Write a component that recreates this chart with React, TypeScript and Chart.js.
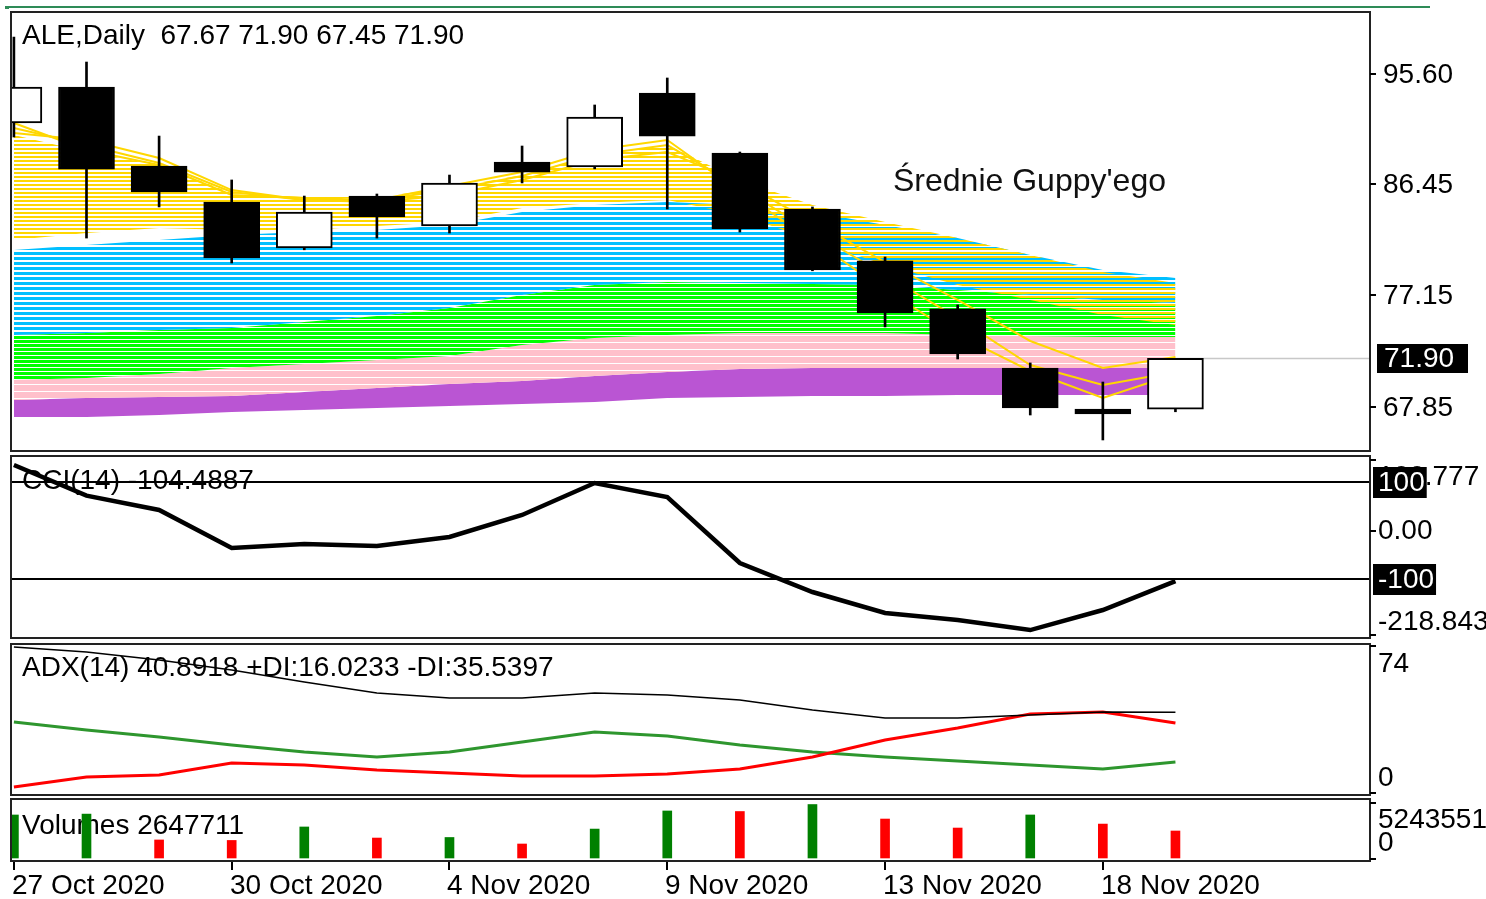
import { useEffect, useRef } from 'react';
import { Chart, registerables } from 'chart.js';

Chart.register(...registerables);

// ---------------- data ----------------
const symbolTitle = 'ALE,Daily';
const guppyTitle = "Średnie Guppy'ego";

const dateTickIndex = [0, 3, 6, 9, 12, 15];
const dateTickLabels = ['27 Oct 2020', '30 Oct 2020', '4 Nov 2020', '9 Nov 2020', '13 Nov 2020', '18 Nov 2020'];

const opens = [91.52, 94.52, 87.93, 84.93, 81.1, 85.43, 82.93, 88.27, 87.85, 94.02, 89.02, 84.35, 80.02, 76.02, 71.1, 67.68, 67.67];
const highs = [98.68, 96.6, 90.43, 86.77, 85.43, 85.6, 87.18, 89.6, 93.02, 95.27, 89.1, 84.52, 80.35, 76.35, 71.52, 69.93, 71.9];
const lows = [90.35, 81.93, 84.52, 79.85, 80.95, 81.93, 82.35, 86.52, 87.7, 84.35, 82.43, 79.2, 74.52, 71.85, 67.18, 65.1, 67.45];
const closes = [94.52, 87.68, 85.77, 80.27, 84.1, 83.68, 86.52, 87.43, 92.02, 90.43, 82.68, 79.27, 75.68, 72.27, 67.77, 67.27, 71.9];

const priceTicks = [95.6, 86.45, 77.15, 67.85];

// Guppy ribbon (price values)
const goldFast1 = [91.52, 89.27, 88.02, 85.52, 85.27, 85.1, 86.27, 87.43, 89.27, 90.1, 85.77, 81.77, 77.6, 73.85, 70.85, 68.6, 70.6];
const goldFast2 = [91.1, 89.68, 88.18, 85.77, 85.1, 85.1, 85.93, 87.1, 88.85, 89.68, 86.18, 82.43, 78.85, 75.27, 71.35, 69.68, 70.77];
const goldFast3 = [90.68, 90.1, 88.6, 85.93, 85.1, 84.93, 85.52, 86.77, 88.43, 89.1, 86.6, 83.27, 79.93, 76.77, 73.35, 71.1, 72.02];
const goldTop = [90.52, 89.1, 88.02, 85.68, 85.35, 85.35, 86.1, 87.18, 88.85, 89.68, 86.77, 84.68, 83.27, 81.93, 80.52, 79.1, 78.18];
const goldBottom = [81.77, 82.35, 82.77, 82.6, 82.6, 82.93, 83.27, 84.43, 84.85, 85.1, 83.85, 81.77, 79.68, 78.02, 76.77, 75.52, 74.68];
const blueTop = [80.93, 81.35, 81.77, 82.18, 82.43, 82.6, 83.02, 84.1, 84.68, 84.93, 84.68, 84.1, 83.02, 81.93, 80.52, 79.27, 78.6];
const blueGreenEdge = [73.85, 74.02, 74.27, 74.43, 74.93, 75.43, 76.1, 77.18, 78.02, 78.27, 78.18, 78.1, 78.02, 77.6, 77.18, 76.77, 76.52];
const greenPinkEdge = [70.1, 70.27, 70.6, 71.1, 71.43, 71.77, 72.1, 73.02, 73.6, 73.85, 74.02, 74.02, 74.02, 73.85, 73.77, 73.68, 73.68];
const pinkPurpleEdge = [68.43, 68.6, 68.68, 68.77, 69.1, 69.43, 69.77, 70.02, 70.43, 70.77, 71.02, 71.1, 71.1, 71.1, 71.1, 71.1, 71.1];
const purpleBottom = [67.02, 67.02, 67.18, 67.43, 67.6, 67.77, 67.93, 68.1, 68.27, 68.6, 68.68, 68.77, 68.77, 68.85, 68.85, 68.85, 68.85];

const cciValues = [135.1, 72.0, 42.3, -36.1, -27.8, -32.0, -13.4, 32.0, 97.9, 69.1, -67.0, -126.8, -170.1, -184.5, -205.2, -163.9, -104.4887];
const cciLevels = [100, -100];
const cciMaxLabel = '100.777';
const cciMinLabel = '-218.843';

const adxMain = [73.5, 71, 67, 62, 56, 50.5, 48, 48, 50.5, 49.5, 47, 42, 38, 38, 39.5, 41, 40.8918];
const plusDI = [36, 32, 28.5, 24.5, 21, 18.5, 21, 26, 31, 29, 24.5, 21, 18.5, 16.5, 14.5, 12.5, 16.0233];
const minusDI = [3.5, 8.5, 9.5, 15.5, 14.5, 12, 10.5, 9, 9, 10, 12.5, 18.5, 27, 33, 40, 41, 35.5397];
const adxMaxLabel = '74';
const adxMinLabel = '0';

const volumes = [4218400, 4305200, 1768900, 1721300, 3042600, 1957400, 2011800, 1372500, 2836900, 4612300, 4558700, 5243551, 3821400, 2938600, 4219800, 3327400, 2647711];

// ---------------- style / layout ----------------
const W = 1486;
const X_MIN = -0.04;
const X_MAX = 18.68;
const FONT = '28px "Liberation Sans", Arial, sans-serif';
const GOLD = '#FFD700';
const BLUE = '#00BFFF';
const GREEN = '#00FF00';
const PINK = '#FFC0CB';
const PURPLE = '#BA55D3';
const VOL_UP = '#008000';
const VOL_DOWN = '#FF0000';

const pts = (arr: number[]) => arr.map((y, i) => ({ x: i, y }));

function drawText(ctx: any, s: string, x: number, y: number, color = '#000', font = FONT) {
  ctx.save();
  ctx.font = font;
  ctx.fillStyle = color;
  ctx.textAlign = 'left';
  ctx.textBaseline = 'middle';
  ctx.fillText(s, x, y);
  ctx.restore();
}

function frame(ctx: any, a: any) {
  ctx.save();
  ctx.strokeStyle = '#222';
  ctx.lineWidth = 2;
  ctx.strokeRect(a.left, a.top, a.right - a.left, a.bottom - a.top);
  ctx.restore();
}

function axisTick(ctx: any, a: any, py: number) {
  ctx.save();
  ctx.fillStyle = '#000';
  ctx.fillRect(a.right, Math.round(py) - 1, 6, 2);
  ctx.restore();
}

function boxed(ctx: any, s: string, x: number, y: number) {
  ctx.save();
  ctx.font = FONT;
  const w = ctx.measureText(s).width;
  ctx.fillStyle = '#000';
  ctx.fillRect(x - 5, Math.round(y) - 15, w + 7, 31);
  ctx.restore();
  drawText(ctx, s, x, y + 1, '#fff');
}

function stripes(target: HTMLCanvasElement, color: string, on: number, period: number, phase: number) {
  const c = document.createElement('canvas');
  c.width = 4;
  c.height = period;
  const g = c.getContext('2d')!;
  g.fillStyle = color;
  for (let r = 0; r < on; r++) g.fillRect(0, (phase + r) % period, 4, 1);
  return target.getContext('2d')!.createPattern(c, 'repeat');
}

function baseOptions(yMin: number, yMax: number, top: number, bottom: number): any {
  return {
    responsive: false,
    maintainAspectRatio: false,
    animation: false,
    devicePixelRatio: 1,
    events: [],
    layout: { padding: { left: 11, right: 116, top, bottom } },
    plugins: { legend: { display: false }, tooltip: { enabled: false }, title: { display: false } },
    datasets: { bar: { grouped: false } },
    scales: {
      x: { type: 'linear', min: X_MIN, max: X_MAX, display: false, offset: false, grid: { offset: false } },
      y: { type: 'linear', min: yMin, max: yMax, display: false, beginAtZero: false },
    },
  };
}

const lineDs = (arr: number[], color: string, width: number, order: number) => ({
  type: 'line',
  data: pts(arr),
  borderColor: color,
  borderWidth: width,
  pointRadius: 0,
  pointHoverRadius: 0,
  tension: 0,
  fill: false,
  order,
  clip: 0,
});

const bandTop = (arr: number[], paint: any, order: number) => ({
  type: 'line',
  data: pts(arr),
  borderColor: 'rgba(0,0,0,0)',
  borderWidth: 1,
  backgroundColor: paint,
  fill: '+1',
  pointRadius: 0,
  tension: 0,
  order,
  clip: 0,
});

const bandBottom = (arr: number[], order: number) => ({
  type: 'line',
  data: pts(arr),
  borderColor: 'rgba(0,0,0,0)',
  borderWidth: 1,
  fill: false,
  pointRadius: 0,
  tension: 0,
  order,
  clip: 0,
});

function priceConfig(canvas: HTMLCanvasElement): any {
  const idx = opens.map((_, i) => i);
  const last = closes.length - 1;
  const bodyData = idx.map((i) => ({ x: i, y: [Math.min(opens[i], closes[i]), Math.max(opens[i], closes[i])] }));
  const wickData = idx.map((i) => ({ x: i, y: [lows[i], highs[i]] }));
  const bodyColors = idx.map((i) => (closes[i] >= opens[i] ? '#FFFFFF' : '#000000'));
  const header = `${symbolTitle}  ${opens[last].toFixed(2)} ${highs[last].toFixed(2)} ${lows[last].toFixed(2)} ${closes[last].toFixed(2)}`;

  const plugin = {
    id: 'pricePanel',
    afterDraw(chart: any) {
      const { ctx, chartArea: a } = chart;
      const y = chart.scales.y;
      frame(ctx, a);
      priceTicks.forEach((v) => {
        const py = y.getPixelForValue(v);
        axisTick(ctx, a, py);
        drawText(ctx, v.toFixed(2), a.right + 13, py + 1);
      });
      const bp = y.getPixelForValue(closes[last]);
      ctx.save();
      ctx.fillStyle = '#000';
      ctx.fillRect(a.right + 7, Math.round(bp) - 14, 91, 29);
      ctx.restore();
      drawText(ctx, closes[last].toFixed(2), a.right + 14, bp + 1, '#fff');
      drawText(ctx, header, a.left + 11, a.top + 24);
      drawText(ctx, guppyTitle, a.left + 882, a.top + 170, '#111', '32px "Liberation Sans", Arial, sans-serif');
      ctx.save();
      ctx.fillStyle = '#2E8B57';
      ctx.fillRect(8, 6, 1422, 2);
      ctx.fillRect(5, 6, 4, 3);
      ctx.restore();
    },
  };

  return {
    type: 'bar',
    data: {
      datasets: [
        { type: 'bar', data: bodyData, backgroundColor: bodyColors, borderColor: '#000', borderWidth: 2, borderSkipped: false, barThickness: 56, grouped: false, order: 0, clip: 0 },
        { type: 'bar', data: wickData, backgroundColor: '#000', borderWidth: 0, barThickness: 2, grouped: false, order: 1, clip: 0 },
        lineDs(goldFast1, GOLD, 2, 2),
        lineDs(goldFast2, GOLD, 2, 2),
        lineDs(goldFast3, GOLD, 2, 2),
        bandTop(goldTop, stripes(canvas, GOLD, 2, 4, 0), 3),
        bandBottom(goldBottom, 3),
        bandTop(blueTop, stripes(canvas, BLUE, 3, 5, 2), 4),
        bandBottom(blueGreenEdge, 4),
        bandTop(blueGreenEdge, stripes(canvas, GREEN, 3, 4, 0), 5),
        bandBottom(greenPinkEdge, 5),
        bandTop(greenPinkEdge, stripes(canvas, PINK, 6, 7, 0), 6),
        bandBottom(pinkPurpleEdge, 6),
        bandTop(pinkPurpleEdge, PURPLE, 7),
        bandBottom(purpleBottom, 7),
        { type: 'line', data: [{ x: last, y: closes[last] }, { x: X_MAX, y: closes[last] }], borderColor: '#C8C8C8', borderWidth: 1.5, pointRadius: 0, order: 20, clip: 0 },
      ],
    },
    options: baseOptions(64.18, 100.77, 12, 2),
    plugins: [plugin],
  };
}

function cciConfig(): any {
  const plugin = {
    id: 'cciPanel',
    beforeDatasetsDraw(chart: any) {
      const { ctx, chartArea: a } = chart;
      const y = chart.scales.y;
      drawText(ctx, `CCI(14) ${cciValues[cciValues.length - 1].toFixed(4)}`, a.left + 11, a.top + 25);
      ctx.save();
      ctx.strokeStyle = '#000';
      ctx.lineWidth = 2;
      cciLevels.forEach((v) => {
        const py = Math.round(y.getPixelForValue(v));
        ctx.beginPath();
        ctx.moveTo(a.left, py);
        ctx.lineTo(a.right, py);
        ctx.stroke();
      });
      ctx.restore();
    },
    afterDraw(chart: any) {
      const { ctx, chartArea: a } = chart;
      const y = chart.scales.y;
      frame(ctx, a);
      axisTick(ctx, a, a.top + 4);
      drawText(ctx, cciMaxLabel, a.right + 8, a.top + 21);
      const p0 = y.getPixelForValue(0);
      axisTick(ctx, a, p0);
      drawText(ctx, (0).toFixed(2), a.right + 8, p0 + 1);
      axisTick(ctx, a, a.bottom - 3);
      drawText(ctx, cciMinLabel, a.right + 8, a.bottom - 16);
      cciLevels.forEach((v) => boxed(ctx, String(v), a.right + 8, y.getPixelForValue(v)));
    },
  };
  return {
    type: 'line',
    data: { datasets: [lineDs(cciValues, '#000', 4.5, 0)] },
    options: baseOptions(-221.6, 153.6, 2, 2),
    plugins: [plugin],
  };
}

function adxConfig(): any {
  const n = adxMain.length - 1;
  const plugin = {
    id: 'adxPanel',
    beforeDatasetsDraw(chart: any) {
      const { ctx, chartArea: a } = chart;
      drawText(ctx, `ADX(14) ${adxMain[n].toFixed(4)} +DI:${plusDI[n].toFixed(4)} -DI:${minusDI[n].toFixed(4)}`, a.left + 11, a.top + 24);
    },
    afterDraw(chart: any) {
      const { ctx, chartArea: a } = chart;
      frame(ctx, a);
      axisTick(ctx, a, a.top + 2);
      axisTick(ctx, a, a.bottom - 2);
      drawText(ctx, adxMaxLabel, a.right + 8, a.top + 20);
      drawText(ctx, adxMinLabel, a.right + 8, a.bottom - 17);
    },
  };
  return {
    type: 'line',
    data: {
      datasets: [
        lineDs(adxMain, '#000', 1.5, 0),
        lineDs(minusDI, '#FF0000', 3, 1),
        lineDs(plusDI, '#2E962E', 3, 2),
      ],
    },
    options: baseOptions(-0.5, 75, 2, 2),
    plugins: [plugin],
  };
}

function volumeConfig(): any {
  const n = volumes.length - 1;
  const colors = volumes.map((v, i) => (i === 0 || v > volumes[i - 1] ? VOL_UP : VOL_DOWN));
  const vMax = Math.max(...volumes);
  const plugin = {
    id: 'volPanel',
    beforeDatasetsDraw(chart: any) {
      const { ctx, chartArea: a } = chart;
      drawText(ctx, `Volumes ${volumes[n]}`, a.left + 11, a.top + 27);
    },
    afterDraw(chart: any) {
      const { ctx, chartArea: a } = chart;
      const x = chart.scales.x;
      frame(ctx, a);
      axisTick(ctx, a, a.top + 4);
      axisTick(ctx, a, a.bottom - 2);
      drawText(ctx, String(vMax), a.right + 8, a.top + 21);
      drawText(ctx, '0', a.right + 8, a.bottom - 18);
      dateTickIndex.forEach((i, k) => {
        const px = Math.round(x.getPixelForValue(i));
        ctx.save();
        ctx.fillStyle = '#000';
        ctx.fillRect(px - 1, a.bottom + 1, 2, 8);
        ctx.restore();
        drawText(ctx, dateTickLabels[k], px - 2, a.bottom + 25);
      });
    },
  };
  return {
    type: 'bar',
    data: {
      datasets: [
        { type: 'bar', data: pts(volumes), backgroundColor: colors, borderWidth: 0, barThickness: 9, grouped: false, order: 0, clip: 0 },
      ],
    },
    options: baseOptions(-294180, 5785540, 2, 38),
    plugins: [plugin],
  };
}

export default function App() {
  const priceRef = useRef<HTMLCanvasElement>(null);
  const cciRef = useRef<HTMLCanvasElement>(null);
  const adxRef = useRef<HTMLCanvasElement>(null);
  const volRef = useRef<HTMLCanvasElement>(null);

  useEffect(() => {
    const charts: Chart[] = [];
    charts.push(new Chart(priceRef.current as any, priceConfig(priceRef.current as HTMLCanvasElement)));
    charts.push(new Chart(cciRef.current as any, cciConfig()));
    charts.push(new Chart(adxRef.current as any, adxConfig()));
    charts.push(new Chart(volRef.current as any, volumeConfig()));
    return () => charts.forEach((c) => c.destroy());
  }, []);

  const cs = (top: number, h: number): any => ({ position: 'absolute', left: 0, top, width: W, height: h, display: 'block' });

  return (
    <div style={{ position: 'absolute', left: 0, top: 0, width: W, height: 899, background: '#fff', overflow: 'hidden' }}>
      <canvas ref={priceRef} width={W} height={453} style={cs(0, 453)} />
      <canvas ref={cciRef} width={W} height={186} style={cs(454, 186)} />
      <canvas ref={adxRef} width={W} height={155} style={cs(642, 155)} />
      <canvas ref={volRef} width={W} height={102} style={cs(797, 102)} />
    </div>
  );
}
